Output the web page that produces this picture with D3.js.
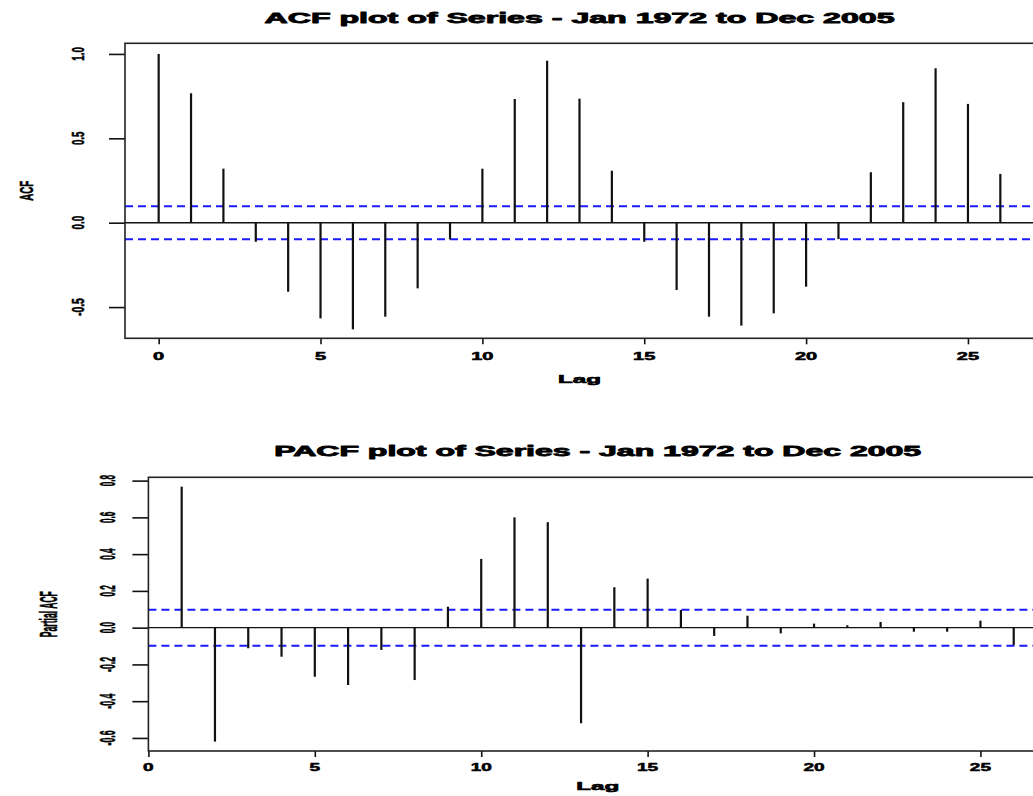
<!DOCTYPE html>
<html>
<head>
<meta charset="utf-8">
<script src="https://cdn.jsdelivr.net/npm/d3@7"></script>
<style>
  body { margin: 0; background: #fff; }
  text { font-family: "Liberation Sans", Arial, sans-serif; fill: #000; }
</style>
</head>
<body>
<svg width="1033" height="796"></svg>
<script>
// values
const acfLags = d3.range(0, 27);
const acfValues = [1.0, 0.767, 0.32, -0.113, -0.409, -0.567, -0.632, -0.557, -0.389, -0.099,
  0.32, 0.733, 0.96, 0.735, 0.308, -0.113, -0.399, -0.557, -0.61, -0.537,
  -0.379, -0.097, 0.299, 0.714, 0.915, 0.704, 0.289];

const pacfLags = d3.range(1, 27);
const pacfValues = [0.767, -0.62, -0.112, -0.158, -0.267, -0.312, -0.121, -0.285, 0.114, 0.374,
  0.6, 0.574, -0.52, 0.22, 0.267, 0.096, -0.045, 0.065, -0.031, 0.022,
  0.013, 0.031, -0.022, -0.022, 0.038, -0.094];

const confLimit = 0.098;
const lagTicks = [0, 5, 10, 15, 20, 25];
const acfYTicks = [-0.5, 0, 0.5, 1.0];
const acfYLabels = ["-0.5", "0.0", "0.5", "1.0"];
const pacfYTicks = [-0.6, -0.4, -0.2, 0, 0.2, 0.4, 0.6, 0.8];
const pacfYLabels = ["-0.6", "-0.4", "-0.2", "0.0", "0.2", "0.4", "0.6", "0.8"];

const svg = d3.select("svg");

// squeeze/stretch text along its baseline
function stretch(sel, factor) {
  sel.each(function () {
    const n = this.getComputedTextLength();
    d3.select(this).attr("textLength", n * factor).attr("lengthAdjust", "spacingAndGlyphs");
  });
}
function fitTo(sel, len) {
  sel.attr("textLength", len).attr("lengthAdjust", "spacingAndGlyphs");
}
// the scan has heavy, smeared glyphs
function heavy(sel, w) {
  sel.attr("stroke", "#000").attr("stroke-width", w).attr("stroke-linejoin", "round");
}

function drawPanel(p) {
  const x = d3.scaleLinear().domain(p.xDomain).range([p.left, p.right]);
  const y = d3.scaleLinear().domain(p.yDomain).range([p.bottom, p.top]);
  const g = svg.append("g");

  // ticks only, labels drawn by hand below
  const xAxis = g.append("g")
    .attr("transform", `translate(0,${p.bottom})`)
    .call(d3.axisBottom(x).tickValues(lagTicks).tickSize(6).tickFormat(""));
  const yAxis = g.append("g")
    .attr("transform", `translate(${p.left},0)`)
    .call(d3.axisLeft(y).tickValues(p.yTicks).tickSize(16).tickFormat(""));
  [xAxis, yAxis].forEach((a) => {
    a.select(".domain").remove();
    a.selectAll("line").attr("stroke", "#111").attr("stroke-width", 1.6);
  });

  // confidence bands
  g.selectAll(".ci")
    .data([confLimit, -confLimit])
    .join("line")
    .attr("x1", p.left).attr("x2", p.right)
    .attr("y1", (d) => y(d)).attr("y2", (d) => y(d))
    .attr("stroke", "#1a1aff")
    .attr("stroke-width", 2)
    .attr("stroke-dasharray", "8,5");

  // zero line
  g.append("line")
    .attr("x1", p.left).attr("x2", p.right)
    .attr("y1", y(0)).attr("y2", y(0))
    .attr("stroke", "#111").attr("stroke-width", 1.4);

  // spikes
  g.selectAll(".spike")
    .data(p.lags.map((l, i) => ({ lag: l, v: p.values[i] })))
    .join("line")
    .attr("x1", (d) => x(d.lag)).attr("x2", (d) => x(d.lag))
    .attr("y1", y(0)).attr("y2", (d) => y(d.v))
    .attr("stroke", "#111").attr("stroke-width", 2.2);

  // box
  g.append("rect")
    .attr("x", p.left).attr("y", p.top)
    .attr("width", p.right - p.left).attr("height", p.bottom - p.top)
    .attr("fill", "none").attr("stroke", "#222").attr("stroke-width", 1.6);

  // x tick labels
  g.selectAll(".xl")
    .data(lagTicks)
    .join("text")
    .attr("x", (d) => x(d)).attr("y", p.xLabelY)
    .attr("text-anchor", "middle")
    .attr("font-size", p.xLabelSize)
    .attr("font-weight", "bold")
    .text((d) => d)
    .call(stretch, p.xLabelStretch)
    .call(heavy, 0.5);

  // y tick labels, rotated
  g.selectAll(".yl")
    .data(p.yTicks.map((v, i) => ({ v, label: p.yLabels[i] })))
    .join("text")
    .attr("transform", (d) => `translate(${p.yLabelX},${y(d.v)}) rotate(-90)`)
    .attr("text-anchor", "middle")
    .attr("font-size", p.yLabelSize)
    .attr("font-weight", "bold")
    .text((d) => d.label)
    .call(fitTo, p.yLabelLen)
    .call(heavy, 0.6);

  // title
  g.append("text")
    .attr("x", (p.left + p.right) / 2).attr("y", p.titleY)
    .attr("text-anchor", "middle")
    .attr("font-size", 14).attr("font-weight", "bold")
    .text(p.title)
    .call(fitTo, p.titleLen)
    .call(heavy, 0.8);

  // x axis title
  g.append("text")
    .attr("x", (p.left + p.right) / 2).attr("y", p.xTitleY)
    .attr("text-anchor", "middle")
    .attr("font-size", 11).attr("font-weight", "bold")
    .text("Lag")
    .call(fitTo, 43)
    .call(heavy, 0.6);

  // y axis title
  g.append("text")
    .attr("transform", `translate(${p.yTitleX},${(p.top + p.bottom) / 2}) rotate(-90)`)
    .attr("text-anchor", "middle")
    .attr("font-size", p.yTitleSize).attr("font-weight", "bold")
    .text(p.yTitle)
    .call(fitTo, p.yTitleLen)
    .call(heavy, 0.6);
}

drawPanel({
  title: "ACF plot of Series - Jan 1972 to Dec 2005",
  titleY: 23, titleLen: 630,
  left: 125, right: 1034, top: 43.3, bottom: 338.3,
  xDomain: [-1.04, 27.04], yDomain: [-0.685, 1.063],
  lags: acfLags, values: acfValues,
  yTicks: acfYTicks, yLabels: acfYLabels,
  xLabelY: 360, xLabelSize: 10, xLabelStretch: 2.0,
  yLabelX: 84, yLabelSize: 16, yLabelLen: (d) => d.label.length * 4.5,
  xTitleY: 383,
  yTitle: "ACF", yTitleX: 33, yTitleSize: 19, yTitleLen: 20
});

drawPanel({
  title: "PACF plot of Series - Jan 1972 to Dec 2005",
  titleY: 456, titleLen: 647,
  left: 148.4, right: 1047, top: 477.3, bottom: 751,
  xDomain: [0, 27], yDomain: [-0.671, 0.818],
  lags: pacfLags, values: pacfValues,
  yTicks: pacfYTicks, yLabels: pacfYLabels,
  xLabelY: 771, xLabelSize: 10, xLabelStretch: 1.9,
  yLabelX: 115, yLabelSize: 22, yLabelLen: (d) => d.label.length * 3.8,
  xTitleY: 790,
  yTitle: "Partial ACF", yTitleX: 57, yTitleSize: 24, yTitleLen: 46
});
</script>
</body>
</html>
